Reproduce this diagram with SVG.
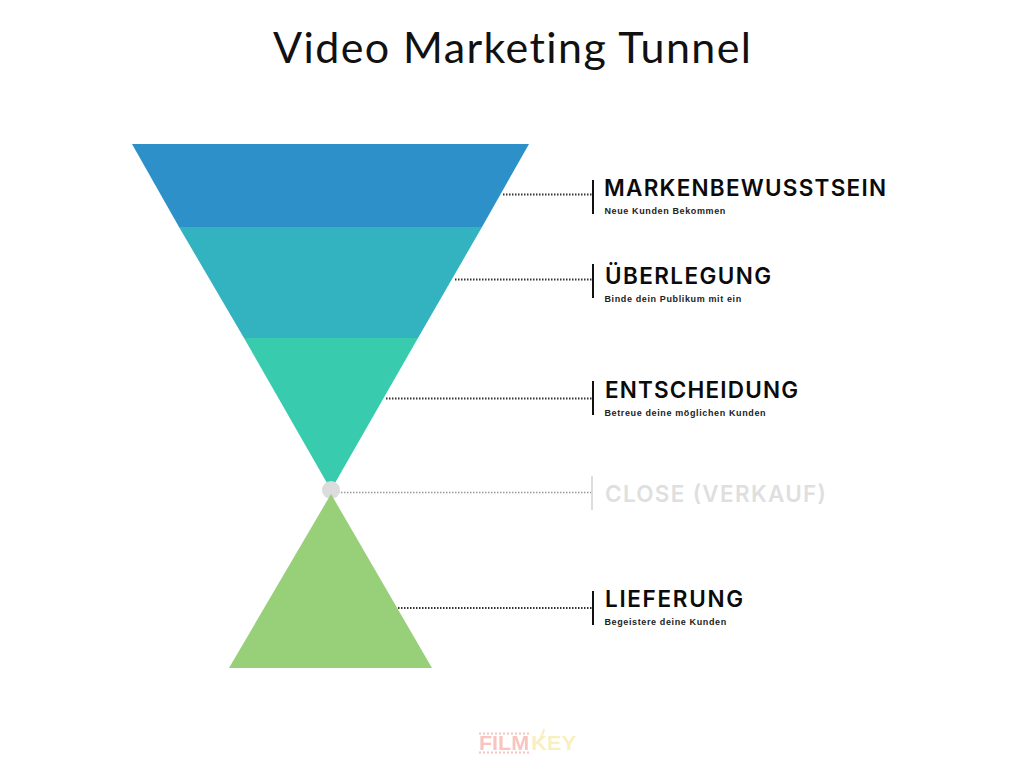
<svg xmlns="http://www.w3.org/2000/svg" width="1024" height="768" viewBox="0 0 1024 768">
<defs><filter id="soft" x="-10%" y="-10%" width="120%" height="120%"><feGaussianBlur stdDeviation="0.6"/></filter></defs>
<style>
.h{font-family:"Inter","Liberation Sans",sans-serif;font-size:22.5px;font-weight:600;fill:#0b0b0b}
.s{font-family:"Liberation Sans",sans-serif;font-size:9px;font-weight:700;letter-spacing:.62px;fill:#222}
.d{stroke:#333;stroke-width:2;stroke-dasharray:1.5 1.5;fill:none}
.b{stroke:#111;stroke-width:2;fill:none}
</style>
<rect width="1024" height="768" fill="#fff"/>
<text x="273" y="63" font-family="'Lato','Liberation Sans',sans-serif" font-size="43" font-weight="400" textLength="478" style="font-variant-ligatures:none" fill="#111">Video Marketing Tunnel</text>
<g id="connectors">
<path class="d" d="M503 194.500H592"/>
<path class="d" d="M455 279.500H592"/>
<path class="d" d="M386 398.500H592"/>
<path class="d" d="M338 492.500H592" style="stroke:#999;stroke-width:1.500"/>
<path class="d" d="M398 608H592"/>
</g>
<g id="stage1"><polygon points="132,144 529,144 482,227 179,227" fill="#2e90c8"/><path class="b" d="M593 180V214"/><text class="h" x="604" y="195.500" textLength="282">MARKENBEWUSSTSEIN</text><text class="s" x="604.500" y="214">Neue Kunden Bekommen</text></g>
<g id="stage2"><polygon points="179,227 482,227 418,338 244,338" fill="#33b2c0"/><path class="b" d="M593 264V298"/><text class="h" x="605" y="283.500" textLength="166">ÜBERLEGUNG</text><text class="s" x="604.500" y="302">Binde dein Publikum mit ein</text></g>
<g id="stage3"><polygon points="244,338 418,338 331,490" fill="#38cbae"/><path class="b" d="M593 381V415"/><text class="h" x="605" y="397.500" textLength="193">ENTSCHEIDUNG</text><text class="s" x="604.500" y="416">Betreue deine möglichen Kunden</text></g>
<g id="close"><circle cx="331" cy="490" r="9" fill="#dcdcdc"/><path d="M592 476V510" stroke="#ddd" stroke-width="2"/><text class="h" x="605" y="501.500" textLength="221" style="fill:#dfdfdf">CLOSE (VERKAUF)</text></g>
<g id="stage4"><polygon points="331,494 432,668 229,668" fill="#98d07a"/><path class="b" d="M593 591V625"/><text class="h" x="605" y="606.500" textLength="138">LIEFERUNG</text><text class="s" x="604.500" y="625">Begeistere deine Kunden</text></g>
<g id="logo" font-family="'Liberation Sans',sans-serif" font-weight="700" font-size="21" filter="url(#soft)">
<path d="M479 733.500H529M479 752.500H529" stroke="#f8c4bd" stroke-width="2" stroke-dasharray="2 2"/>
<text x="479" y="750" fill="#f8c4bd" textLength="50" lengthAdjust="spacingAndGlyphs">FILM</text>
<text x="531" y="750" fill="#f9efbf" textLength="45" lengthAdjust="spacingAndGlyphs">KEY</text>
<path d="M538 741Q543 736 544 729" stroke="#f9efbf" stroke-width="2" fill="none"/>
</g>
</svg>
